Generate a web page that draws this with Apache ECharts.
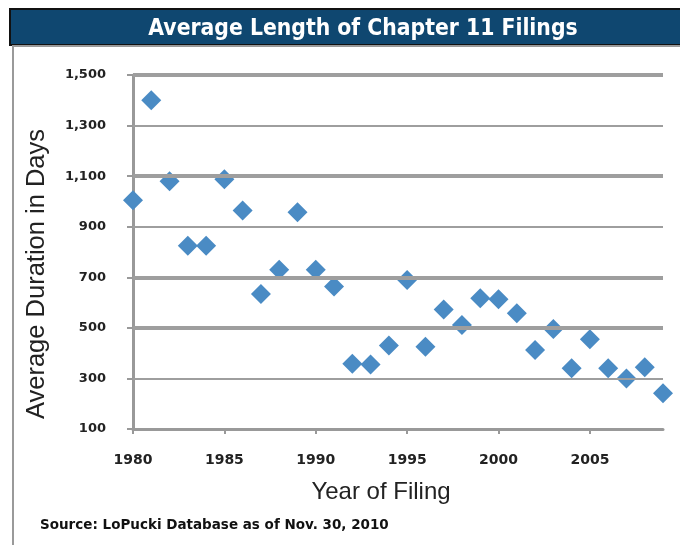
<!DOCTYPE html>
<html>
<head>
<meta charset="utf-8">
<script src="https://cdn.jsdelivr.net/npm/echarts@6/dist/echarts.min.js"></script>
<style>
  html, body { margin: 0; padding: 0; background: #fff; }
  #chart { width: 680px; height: 545px; }
</style>
</head>
<body>
<div id="chart"></div>
<script>
// values
const years = [1980, 1981, 1982, 1983, 1984, 1985, 1986, 1987, 1988, 1989,
  1990, 1991, 1992, 1993, 1994, 1995, 1996, 1997, 1998, 1999,
  2000, 2001, 2002, 2003, 2004, 2005, 2006, 2007, 2008, 2009];
const avgDays = [1005, 1400, 1080, 825, 825, 1088, 964, 634, 730, 957,
  730, 664, 358, 355, 430, 689, 425, 573, 511, 617,
  613, 558, 412, 495, 340, 455, 340, 300, 344, 241];
const yTicks = [100, 300, 500, 700, 900, 1100, 1300, 1500];
const thickLines = [100, 500, 700, 1100, 1500];

const points = years.map((y, i) => [y, avgDays[i]]);
const fmtNum = (v) => v >= 1000 ? Math.floor(v / 1000) + "," + String(v % 1000).padStart(3, "0") : String(v);

const chart = echarts.init(document.getElementById("chart"));
chart.setOption({
  animation: false,
  grid: { left: 133, right: 17, top: 75, bottom: 116 },
  graphic: [
    { type: "rect", shape: { x: 10, y: 9, width: 672, height: 36 }, style: { fill: "#0f4770", stroke: "#111", lineWidth: 2 } },
    { type: "line", shape: { x1: 12, y1: 46, x2: 680, y2: 46 }, style: { stroke: "#9a9a9a", lineWidth: 2 } },
    { type: "line", shape: { x1: 13, y1: 46, x2: 13, y2: 545 }, style: { stroke: "#9a9a9a", lineWidth: 2 } },
    { type: "text", x: 363, y: 29, style: { text: "Average Length of Chapter 11 Filings", fill: "#fff", font: "bold 22.7px 'DejaVu Sans Condensed', sans-serif", align: "center", verticalAlign: "middle" } },
    { type: "text", x: 37, y: 274, rotation: Math.PI / 2, style: { text: "Average Duration in Days", fill: "#222", font: "25.5px 'Liberation Sans', sans-serif", align: "center", verticalAlign: "middle" } },
    { type: "text", x: 381, y: 492, style: { text: "Year of Filing", fill: "#222", font: "24px 'Liberation Sans', sans-serif", align: "center", verticalAlign: "middle" } },
    { type: "text", x: 40, y: 525, style: { text: "Source: LoPucki Database as of Nov. 30, 2010", fill: "#111", font: "bold 13.5px 'DejaVu Sans', sans-serif", verticalAlign: "middle" } },
  ],
  xAxis: {
    type: "value",
    min: 1980,
    max: 2009,
    interval: 5,
    axisLine: { lineStyle: { color: "#999", width: 3 } },
    axisTick: { length: 5, lineStyle: { color: "#999", width: 2 } },
    axisLabel: { fontSize: 14, fontWeight: "bold", color: "#222", fontFamily: "DejaVu Sans", margin: 24, showMaxLabel: false, formatter: (v) => String(v) },
    splitLine: { show: false },
  },
  yAxis: {
    type: "value",
    min: 100,
    max: 1500,
    interval: 200,
    axisLine: { show: true, lineStyle: { color: "#999", width: 3 } },
    axisTick: { show: true, length: 6, lineStyle: { color: "#999", width: 2 } },
    axisLabel: { fontSize: 13, fontWeight: "bold", color: "#222", fontFamily: "DejaVu Sans", margin: 27, formatter: fmtNum },
    splitLine: { show: false },
  },
  series: [
    {
      type: "scatter",
      data: points,
      symbol: "diamond",
      symbolSize: 20,
      itemStyle: { color: "#4a8bc4", opacity: 1 },
      markLine: {
        silent: true,
        symbol: "none",
        label: { show: false },
        data: yTicks.filter((t) => t !== 100).map((t) => ({
          yAxis: t,
          lineStyle: { color: "#9e9e9e", type: "solid", width: thickLines.includes(t) ? 4 : 2 },
        })),
      },
      z: 3,
    },
  ],
});
</script>
</body>
</html>
